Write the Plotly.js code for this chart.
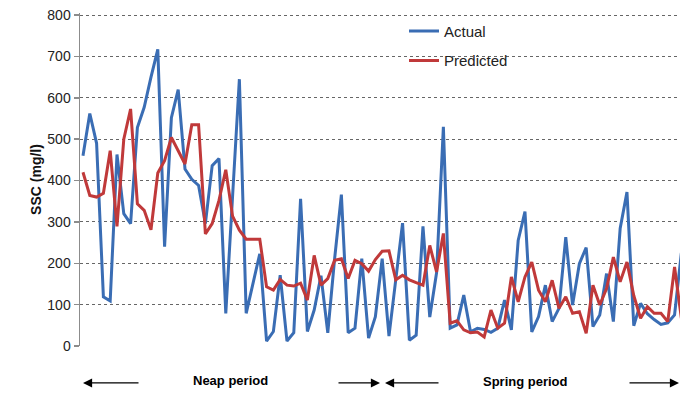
<!DOCTYPE html>
<html>
<head>
<meta charset="utf-8">
<script src="https://cdn.plot.ly/plotly-3.0.1.min.js"></script>
<style>html,body{margin:0;padding:0;background:#fff;}#chart{width:680px;height:399px;}</style>
</head>
<body>
<div id="chart"></div>
<script>
// SSC values (mg/l), one per sample
const actual = [460, 562, 490, 119, 109, 463, 320, 296, 528, 577, 650, 717, 240, 552, 620, 428, 403, 388, 296, 436,
  453, 79, 362, 645, 79, 150, 223, 12, 35, 171, 12, 32, 356, 35, 87, 170, 32, 210, 366, 32,
  43, 211, 19, 71, 211, 24, 165, 297, 14, 26, 289, 70, 177, 530, 43, 51, 123, 34, 43, 40,
  33, 43, 111, 39, 255, 325, 34, 71, 147, 59, 91, 263, 99, 199, 238, 47, 75, 175, 59, 284,
  372, 49, 103, 78, 64, 52, 56, 75, 225];
const predicted = [420, 364, 360, 369, 472, 289, 500, 573, 344, 328, 281, 418, 448, 504, 472, 440, 535, 535, 271, 296,
  352, 426, 314, 280, 258, 258, 258, 143, 135, 161, 147, 145, 152, 111, 219, 147, 163, 207, 211, 163,
  207, 199, 181, 209, 229, 230, 160, 171, 160, 153, 147, 243, 179, 272, 55, 61, 39, 32, 34, 22,
  87, 43, 55, 167, 107, 167, 203, 135, 107, 159, 91, 119, 79, 83, 31, 147, 99, 139, 215, 155,
  203, 122, 67, 95, 79, 79, 59, 191, 67];
const seriesNames = ["Actual", "Predicted"];
const yTicks = [0, 100, 200, 300, 400, 500, 600, 700, 800];
const periodLabels = ["Neap period", "Spring period"];

const sample = actual.map((_, i) => i);

const traces = [
  {x: sample, y: actual, name: seriesNames[0], type: "scatter", mode: "lines",
   line: {color: "#3a6db4", width: 3}, legendgroup: "a"},
  {x: sample, y: predicted, name: seriesNames[1], type: "scatter", mode: "lines",
   line: {color: "#c0393a", width: 3}, legendgroup: "b"}
];

const arrowBase = {xref: "paper", yref: "paper", y: -0.111, ay: 0, axref: "pixel", ayref: "pixel",
  showarrow: true, arrowhead: 2, arrowsize: 1.4, arrowwidth: 1.3, arrowcolor: "#000", text: ""};

const layout = {
  width: 680, height: 399,
  margin: {l: 80, r: 0, t: 13, b: 53},
  paper_bgcolor: "#fff", plot_bgcolor: "#fff",
  font: {family: "Liberation Sans, Arial, sans-serif", color: "#222"},
  xaxis: {range: [-0.44, 87.8], showgrid: false, zeroline: false, showline: false,
          showticklabels: false, ticks: ""},
  yaxis: {range: [0, 805], tickvals: yTicks, ticktext: yTicks.map(String),
          showgrid: true, gridcolor: "#666", griddash: "3px,3px", gridwidth: 1,
          zeroline: false, showline: true, linecolor: "#8c8c8c", linewidth: 1.5,
          ticks: "outside", ticklen: 5, tickcolor: "#8c8c8c", tickwidth: 1.5,
          tickfont: {size: 14, color: "#222"},
          title: {text: "SSC (mg/l)", font: {size: 14, color: "#111", weight: "bold"}, standoff: 2}},
  showlegend: true,
  legend: {x: 0.54, y: 0.995, xanchor: "left", yanchor: "top", bgcolor: "rgba(0,0,0,0)",
           font: {size: 15, color: "#222"}, tracegroupgap: 7},
  annotations: [
    {xref: "paper", yref: "paper", x: (230 - 80) / 600, y: -0.133, xanchor: "center",
     text: "<b>" + periodLabels[0] + "</b>", showarrow: false, font: {size: 13, color: "#000"}},
    {xref: "paper", yref: "paper", x: (525 - 80) / 600, y: -0.136, xanchor: "center",
     text: "<b>" + periodLabels[1] + "</b>", showarrow: false, font: {size: 13, color: "#000"}},
    Object.assign({}, arrowBase, {x: (83 - 80) / 600, ax: 57}),
    Object.assign({}, arrowBase, {x: (380 - 80) / 600, ax: -43}),
    Object.assign({}, arrowBase, {x: (385 - 80) / 600, ax: 55}),
    Object.assign({}, arrowBase, {x: (679 - 80) / 600, ax: -51})
  ]
};

Plotly.newPlot("chart", traces, layout, {displayModeBar: false, staticPlot: true});
</script>
</body>
</html>
